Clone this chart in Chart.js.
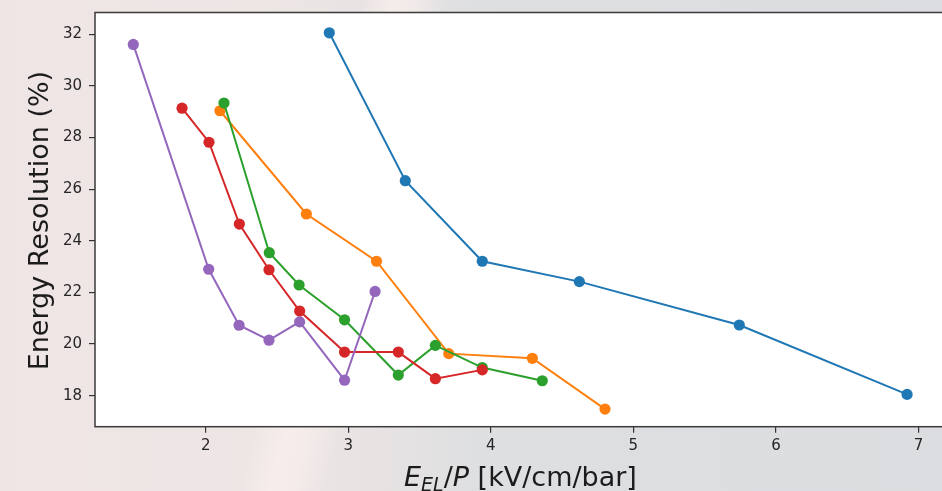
<!DOCTYPE html>
<html>
<head>
<meta charset="utf-8">
<script src="https://cdn.jsdelivr.net/npm/chart.js@4/dist/chart.umd.min.js"></script>
<style>
  html, body { margin: 0; padding: 0; width: 942px; height: 491px; overflow: hidden; }
  body {
    background:
      linear-gradient(104deg, rgba(255,255,255,0) 0%, rgba(255,255,255,0) 34%, rgba(250,240,238,0.75) 37%, rgba(250,240,238,0.6) 39%, rgba(255,255,255,0) 42%),
      linear-gradient(90deg, #efe5e5 0%, #ede6e5 28%, #e8e3e3 40%, #dedfe1 50%, #dcdde0 100%);
  }
  #wrap { position: absolute; left: 0; top: 0; width: 960px; height: 491px; }
</style>
</head>
<body>
<div id="wrap"><canvas id="c" width="960" height="491"></canvas></div>
<script>
// Electroluminescence field scans: energy resolution vs reduced field
const xBlue   = [2.867, 3.400, 3.940, 4.621, 5.743, 6.920];
const yBlue   = [32.06, 26.33, 23.21, 22.42, 20.74, 18.05];
const xOrange = [2.100, 2.706, 3.198, 3.705, 4.291, 4.801];
const yOrange = [29.04, 25.04, 23.21, 19.63, 19.45, 17.48];
const xGreen  = [2.128, 2.446, 2.655, 2.974, 3.351, 3.611, 3.940, 4.361];
const yGreen  = [29.34, 23.54, 22.29, 20.94, 18.80, 19.95, 19.09, 18.58];
const xRed    = [1.834, 2.023, 2.236, 2.444, 2.659, 2.974, 3.351, 3.611, 3.940];
const yRed    = [29.14, 27.82, 24.65, 22.88, 21.28, 19.69, 19.69, 18.66, 19.00];
const xPurple = [1.492, 2.021, 2.234, 2.444, 2.659, 2.974, 3.188];
const yPurple = [31.61, 22.90, 20.73, 20.15, 20.86, 18.60, 22.04];

const xTicks = [2, 3, 4, 5, 6, 7];
const yTicks = [18, 20, 22, 24, 26, 28, 30, 32];

const yTitle = 'Energy Resolution (%)';

function pts(xs, ys) { return xs.map((x, i) => ({ x: x, y: ys[i] })); }

function series(xs, ys, color, order) {
  return {
    data: pts(xs, ys),
    borderColor: color,
    backgroundColor: color,
    pointBackgroundColor: color,
    borderWidth: 2,
    pointRadius: 5.6,
    pointBorderWidth: 0,
    pointHoverRadius: 5.6,
    showLine: true,
    tension: 0,
    order: order
  };
}

const FONT = "'DejaVu Sans', sans-serif";

// white axes face, spines and axis titles
const frame = {
  id: 'frame',
  beforeDraw(chart) {
    const a = chart.chartArea, ctx = chart.ctx;
    ctx.save();
    ctx.fillStyle = '#ffffff';
    ctx.fillRect(a.left, a.top, a.right - a.left, a.bottom - a.top);
    ctx.restore();
  },
  afterDraw(chart) {
    const a = chart.chartArea, ctx = chart.ctx;
    ctx.save();
    ctx.strokeStyle = '#3a3a3a';
    ctx.lineWidth = 1.5;
    ctx.strokeRect(a.left, a.top, a.right - a.left, a.bottom - a.top);

    // y axis title
    ctx.fillStyle = '#1c1c1c';
    ctx.font = '27px ' + FONT;
    ctx.textAlign = 'center';
    ctx.textBaseline = 'alphabetic';
    ctx.translate(48, (a.top + a.bottom) / 2 + 1);
    ctx.rotate(-Math.PI / 2);
    ctx.fillText(yTitle, 0, 0);
    ctx.restore();

    // x axis title: E_EL/P [kV/cm/bar]
    ctx.save();
    ctx.fillStyle = '#1c1c1c';
    ctx.textBaseline = 'alphabetic';
    ctx.textAlign = 'left';
    const S = 27, base = 486;
    let x = 404;
    const parts = [
      { t: 'E', f: 'italic ' + S + 'px ' + FONT, dy: 0 },
      { t: 'EL', f: 'italic ' + Math.round(S * 0.7) + 'px ' + FONT, dy: 5 },
      { t: '/', f: S + 'px ' + FONT, dy: 0 },
      { t: 'P', f: 'italic ' + S + 'px ' + FONT, dy: 0 },
      { t: ' [kV/cm/bar]', f: S + 'px ' + FONT, dy: 0 }
    ];
    for (const p of parts) {
      ctx.font = p.f;
      ctx.fillText(p.t, x, base + p.dy);
      x += ctx.measureText(p.t).width;
    }
    ctx.restore();
  }
};

new Chart(document.getElementById('c'), {
  type: 'scatter',
  data: {
    datasets: [
      series(xBlue, yBlue, '#1f77b4', 5),
      series(xOrange, yOrange, '#ff7f0e', 4),
      series(xGreen, yGreen, '#2ca02c', 3),
      series(xRed, yRed, '#d62728', 2),
      series(xPurple, yPurple, '#9467bd', 1)
    ]
  },
  options: {
    responsive: false,
    animation: false,
    devicePixelRatio: 1,
    layout: { padding: { top: 12.5, right: 14, left: 0, bottom: 0 }, autoPadding: false },
    plugins: { legend: { display: false }, tooltip: { enabled: false } },
    scales: {
      x: {
        type: 'linear',
        min: 1.2234,
        max: 7.193,
        afterBuildTicks(scale) { scale.ticks = xTicks.map(v => ({ value: v })); },
        afterFit(scale) { scale.height = 64.3; scale.paddingLeft = 0; scale.paddingRight = 0; },
        border: { display: false },
        grid: { display: true, drawOnChartArea: false, drawTicks: true, tickLength: 6, color: '#333333', lineWidth: 1.2 },
        ticks: { color: '#262626', font: { family: FONT, size: 15 }, padding: 4, maxRotation: 0, autoSkip: false }
      },
      y: {
        type: 'linear',
        min: 16.799,
        max: 32.847,
        afterBuildTicks(scale) { scale.ticks = yTicks.map(v => ({ value: v })); },
        afterFit(scale) { scale.width = 95; scale.paddingTop = 0; scale.paddingBottom = 0; },
        border: { display: false },
        grid: { display: true, drawOnChartArea: false, drawTicks: true, tickLength: 6, color: '#333333', lineWidth: 1.2 },
        ticks: { color: '#262626', font: { family: FONT, size: 15 }, padding: 7, autoSkip: false }
      }
    }
  },
  plugins: [frame]
});
</script>
</body>
</html>
